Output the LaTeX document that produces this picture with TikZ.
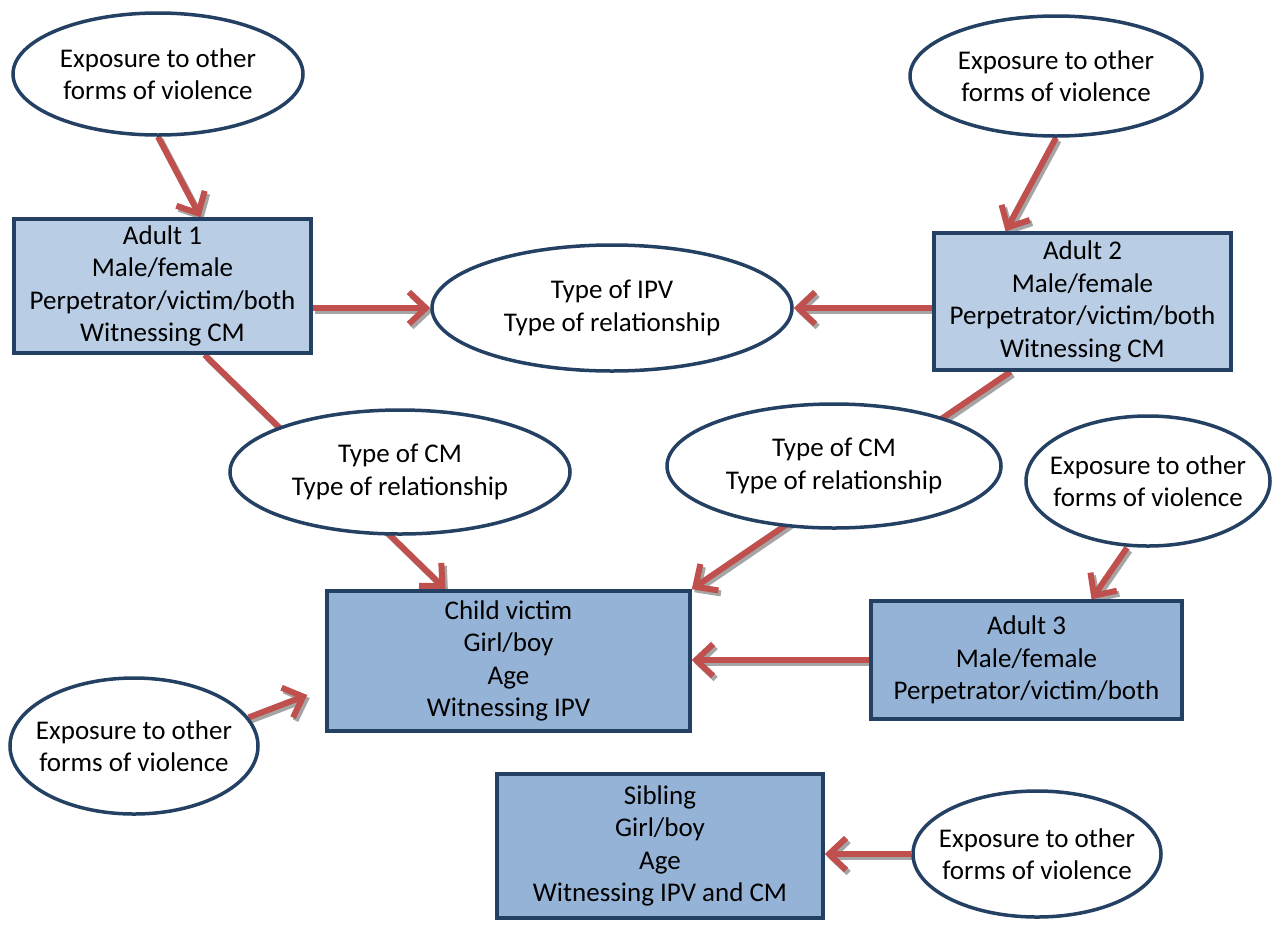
\documentclass[tikz,border=0pt]{standalone}
\usepackage{fontspec}
\setmainfont{Carlito}
\usetikzlibrary{arrows.meta,shapes.geometric}
\pgfdeclarelayer{bg}
\pgfsetlayers{bg,main}
\definecolor{navy}{RGB}{36,64,98}
\definecolor{lightbox}{RGB}{185,205,229}
\definecolor{darkbox}{RGB}{149,179,215}
\definecolor{arrowred}{RGB}{192,80,77}
\definecolor{shadowgray}{RGB}{165,165,165}
\begin{document}
\begin{tikzpicture}[x=1pt,y=-1pt,
  txt/.style={font=\fontsize{27}{32.5}\selectfont, text=black, align=center},
  oval/.style={txt, ellipse, draw=navy, line width=3.5pt, fill=white, inner sep=0pt, inner xsep=-40pt},
  boxlight/.style={txt, rectangle, draw=navy, line width=3.5pt, fill=lightbox, inner sep=0pt},
  boxdark/.style={txt, rectangle, draw=navy, line width=3.5pt, fill=darkbox, inner sep=0pt},
  conn/.style={draw=arrowred, line width=6pt,
    -{Straight Barb[length=17pt,width=32pt]}},
  connshadow/.style={conn, draw=shadowgray, transform canvas={shift={(2.5pt,-3pt)}}}
]
\useasboundingbox (0,0) rectangle (1273,924);

% nodes
\node[oval, minimum width=290pt, minimum height=122pt] (e1) at (158,74) {Exposure to other\\forms of violence};
\node[oval, minimum width=292pt, minimum height=120pt] (e2) at (1056,76) {Exposure to other\\forms of violence};
\node[boxlight, minimum width=297pt, minimum height=134pt] (a1) at (162.5,286) {Adult 1\\Male/female\\Perpetrator/victim/both\\Witnessing CM};
\node[boxlight, minimum width=297pt, minimum height=137pt] (a2) at (1082.5,301.5) {Adult 2\\Male/female\\Perpetrator/victim/both\\Witnessing CM};
\node[oval, minimum width=360pt, minimum height=126pt] (ipv) at (612,308) {Type of IPV\\Type of relationship};
\node[oval, minimum width=340pt, minimum height=124pt] (cml) at (400,472) {Type of CM\\Type of relationship};
\node[oval, minimum width=334pt, minimum height=124pt] (cmr) at (834,466) {Type of CM\\Type of relationship};
\node[oval, minimum width=244pt, minimum height=130pt] (e3) at (1148,481) {Exposure to other\\forms of violence};
\node[boxdark, minimum width=363pt, minimum height=140pt] (child) at (508.5,661) {Child victim\\Girl/boy\\Age\\Witnessing IPV};
\node[boxdark, minimum width=311pt, minimum height=118pt] (a3) at (1026.5,660) {Adult 3\\Male/female\\Perpetrator/victim/both};
\node[oval, minimum width=248pt, minimum height=136pt] (e4) at (134,746) {Exposure to other\\forms of violence};
\node[boxdark, minimum width=326pt, minimum height=144pt] (sib) at (660,846) {Sibling\\Girl/boy\\Age\\Witnessing IPV and CM};
\node[oval, minimum width=248pt, minimum height=126pt] (e5) at (1037,854) {Exposure to other\\forms of violence};

% connector end points
\coordinate (e1out) at (e1.south);
\coordinate (a1in) at ([xshift=38pt]a1.north);
\coordinate (a1out) at ([yshift=-22pt]a1.east);
\coordinate (ipvinl) at (ipv.west |- a1out);
\coordinate (a2out) at (a2.west |- ipv.east);
\coordinate (ipvinr) at (ipv.east);
\coordinate (e2out) at (e2.south);
\coordinate (a2in) at ([xshift=-77pt]a2.north);
\coordinate (a1down) at ([xshift=42pt]a1.south);
\coordinate (childin) at ([xshift=-63pt]child.north);
\coordinate (a2down) at ([xshift=-72pt]a2.south);
\coordinate (childne) at (child.north east);
\coordinate (e3out) at ([xshift=-21pt]e3.south);
\coordinate (a3in) at ([xshift=65pt]a3.north);
\coordinate (a3out) at (a3.west);
\coordinate (childe) at (child.east |- a3.west);
\coordinate (e4out) at (e4.14);
\coordinate (e4tip) at ([xshift=-18pt,yshift=-34pt]child.west);
\coordinate (e5out) at (e5.west);
\coordinate (sibin) at (sib.east |- e5.west);

% connectors with their shadows
\begin{pgfonlayer}{bg}
\foreach \s/\t in {e1out/a1in, a1out/ipvinl, a2out/ipvinr, e2out/a2in,
                   a1down/childin, a2down/childne, e3out/a3in, a3out/childe,
                   e4out/e4tip, e5out/sibin}{
  \draw[connshadow] (\s) -- (\t);
}
\foreach \s/\t in {e1out/a1in, a1out/ipvinl, a2out/ipvinr, e2out/a2in,
                   a1down/childin, a2down/childne, e3out/a3in, a3out/childe,
                   e4out/e4tip, e5out/sibin}{
  \draw[conn] (\s) -- (\t);
}
\end{pgfonlayer}
\end{tikzpicture}
\end{document}
